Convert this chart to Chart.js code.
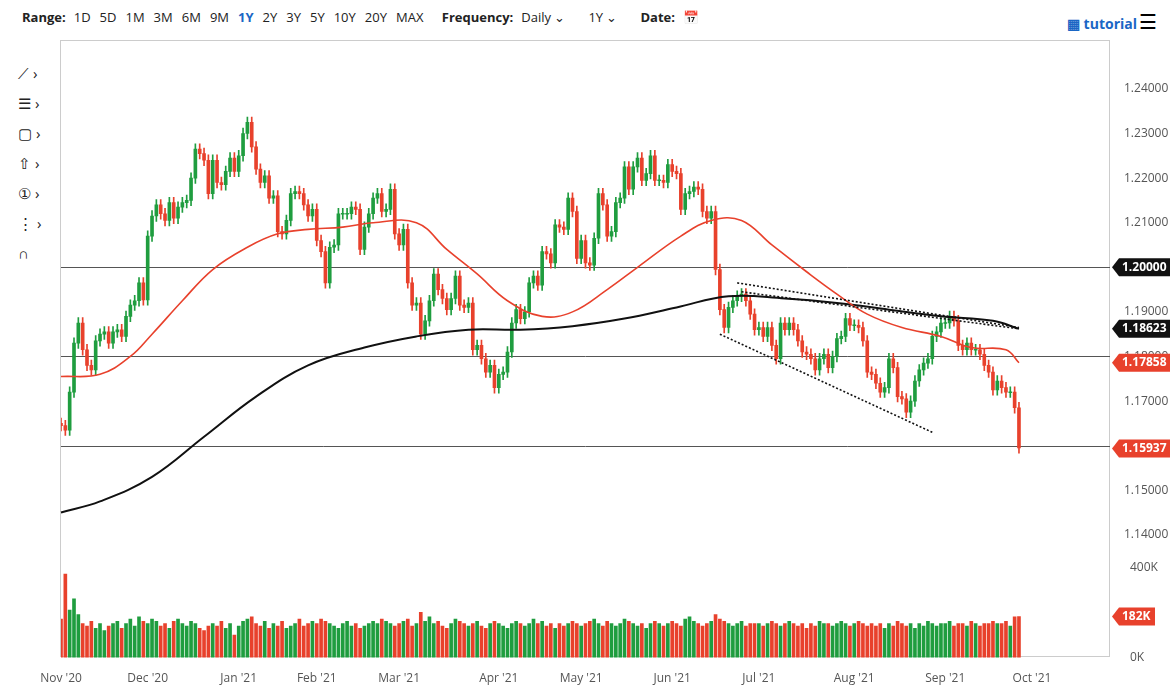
<!DOCTYPE html>
<html lang="en">
<head>
<meta charset="UTF-8">
<title>EUR/USD</title>
<style>
  body { margin: 0; background: #fff; font-family: "Open Sans", Arial, sans-serif; width: 1175px; height: 695px; overflow: hidden; position: relative; }
  #bar { position: absolute; top: 8px; left: 22px; font-size: 13px; color: #222; white-space: nowrap; }
  #bar b { font-weight: 700; margin-right: 8px; }
  #bar span { margin-right: 9px; }
  #bar .on { color: #1a66c5; font-weight: 700; }
  #tut { position: absolute; top: 14px; right: 38px; color: #1a66c5; font-weight: 700; font-size: 14px; }
  #menu { position: absolute; top: 8px; right: 18px; font-size: 20px; }
  #tools { position: absolute; left: 18px; top: 58px; font-size: 15px; line-height: 30px; color: #222; }
  .frame { position: absolute; left: 60px; top: 40px; width: 1050px; height: 617px; border: 1px solid #ccc; box-sizing: border-box; }
  #pc { position: absolute; left: 0; top: 40px; }
  #vc { position: absolute; left: 0; top: 541px; }
</style>
</head>
<body>
<div id="bar"><b>Range:</b><span>1D</span><span>5D</span><span>1M</span><span>3M</span><span>6M</span><span>9M</span><span class="on">1Y</span><span>2Y</span><span>3Y</span><span>5Y</span><span>10Y</span><span>20Y</span><span>MAX</span>
 <b style="margin-left:6px">Frequency:</b><span>Daily ⌄</span><span style="margin-left:14px">1Y ⌄</span><b style="margin-left:14px">Date:</b><span>📅</span></div>
<div id="tut">▦ tutorial</div><div id="menu">☰</div>
<div id="tools">⟋ ›<br>☰ ›<br>▢ ›<br>⇧ ›<br>① ›<br>⋮ ›<br>∩</div>
<div class="frame"></div>
<canvas id="pc" width="1175" height="517"></canvas>
<canvas id="vc" width="1175" height="151"></canvas>
<script src="https://cdn.jsdelivr.net/npm/chart.js"></script>
<script>
// month blocks (trading days per month in view)
const monthNames = ["Nov '20","Dec '20","Jan '21","Feb '21","Mar '21","Apr '21","May '21","Jun '21","Jul '21","Aug '21","Sep '21","Oct '21"];
const monthCounts = [20,21,18,19,23,19,21,20,22,21,18];

const closes = [
 1.1645,1.1635,1.1720,1.1830,1.1875,1.1815,1.1780,1.1770,1.1835,1.1850,1.1855,1.1830,1.1855,1.1860,1.1845,1.1890,1.1915,1.1925,1.1965,1.1927,
 1.2070,1.2115,1.2140,1.2120,1.2105,1.2145,1.2110,1.2135,1.2145,1.2150,1.2200,1.2265,1.2255,1.2240,1.2165,1.2240,1.2190,1.2185,1.2215,1.2245,1.2215,
 1.2250,1.2300,1.2325,1.2270,1.2220,1.2190,1.2205,1.2155,1.2160,1.2080,1.2075,1.2105,1.2165,1.2170,1.2165,1.2140,1.2115,1.2130,
 1.2060,1.2035,1.1965,1.2045,1.2050,1.2120,1.2120,1.2120,1.2135,1.2130,1.2040,1.2090,1.2120,1.2155,1.2165,1.2125,1.2130,1.2175,1.2075,
 1.2050,1.2085,1.1965,1.1915,1.1920,1.1850,1.1880,1.1925,1.1985,1.1950,1.1930,1.1905,1.1930,1.1980,1.1915,1.1910,1.1920,1.1815,1.1825,1.1795,1.1765,1.1780,1.1730,
 1.1760,1.1765,1.1810,1.1875,1.1905,1.1885,1.1900,1.1965,1.1980,1.1960,1.2035,1.2030,1.2010,1.2095,1.2090,1.2085,1.2155,1.2125,1.2020,
 1.2060,1.2010,1.2005,1.2065,1.2165,1.2140,1.2070,1.2080,1.2145,1.2155,1.2225,1.2175,1.2225,1.2245,1.2195,1.2210,1.2250,1.2195,1.2195,1.2190,1.2230,
 1.2215,1.2210,1.2130,1.2165,1.2170,1.2180,1.2175,1.2125,1.2110,1.2125,1.1995,1.1905,1.1865,1.1910,1.1925,1.1935,1.1940,1.1925,1.1895,1.1860,
 1.1865,1.1845,1.1865,1.1825,1.1795,1.1875,1.1860,1.1875,1.1860,1.1835,1.1810,1.1805,1.1795,1.1770,1.1795,1.1805,1.1775,1.1800,1.1840,1.1845,1.1885,1.1870,
 1.1870,1.1865,1.1835,1.1765,1.1760,1.1740,1.1720,1.1730,1.1795,1.1775,1.1710,1.1705,1.1675,1.1700,1.1745,1.1770,1.1785,1.1795,1.1845,1.1855,1.1875,
 1.1875,1.1890,1.1880,1.1825,1.1815,1.1830,1.1815,1.1815,1.1805,1.1780,1.1765,1.1725,1.1745,1.1730,1.1720,1.1720,1.1685,1.1595
];
const firstOpen = 1.1650;
const wick = 0.0012;

const volumes = [
 170,370,210,260,190,150,140,160,130,150,120,140,150,160,130,150,170,140,180,160,
 150,170,160,140,150,130,160,170,150,140,160,150,130,120,140,150,140,160,130,150,100,
 140,160,170,180,150,140,160,130,150,140,160,130,140,150,170,140,150,160,
 150,170,160,150,140,130,150,160,140,150,130,140,150,160,150,170,160,150,140,
 150,160,170,140,150,200,160,180,150,160,140,130,150,170,160,150,140,150,160,140,130,150,160,
 150,140,130,150,160,150,140,150,170,150,160,140,150,130,150,140,150,160,150,
 140,150,160,170,150,140,160,150,140,150,170,160,150,140,150,130,150,160,150,140,150,
 160,150,140,170,180,160,150,140,150,160,190,170,160,150,140,150,160,140,150,150,
 150,140,150,160,150,140,150,160,150,140,150,130,150,140,160,150,150,140,150,160,150,140,
 150,160,150,140,150,140,150,130,150,140,160,150,140,150,130,150,140,160,150,140,150,
 150,160,140,150,150,140,160,150,140,150,150,160,150,150,160,140,180,182
];

// moving averages at sparse trading-day indices
const ma200Idx = [0,9,21,33,45,57,70,82,94,106,118,130,142,154,167,179,191,203,215,221];
const ma200Val = [1.1450,1.1475,1.1530,1.1620,1.1710,1.1780,1.1820,1.1845,1.1860,1.1860,1.1868,1.1885,1.1910,1.1935,1.1930,1.1920,1.1905,1.1890,1.1880,1.1862];
const ma50Idx = [0,9,16,21,28,35,43,50,57,65,72,82,89,96,103,111,118,126,133,143,150,157,164,172,179,186,194,203,210,218,221];
const ma50Val = [1.1755,1.1760,1.1800,1.1850,1.1925,1.1995,1.2045,1.2075,1.2085,1.2090,1.2100,1.2100,1.2040,1.1985,1.1925,1.1890,1.1900,1.1950,1.2000,1.2070,1.2105,1.2105,1.2050,1.1990,1.1940,1.1895,1.1865,1.1845,1.1820,1.1815,1.1786];

// dotted trend lines [idx0, val0, idx1, val1]
const trendLines = [[156,1.1965,221,1.1865],[157,1.1945,221,1.1862],[152,1.1850,201,1.1630]];
const hLines = [1.20,1.18,1.16];
const tags = [[1.20,'1.20000','#111'],[1.18623,'1.18623','#111'],[1.17858,'1.17858','#e8412c'],[1.15937,'1.15937','#e8412c']];

const extraSlots = 21;
const N = closes.length;
const labels = [];
for (let i = 0; i < N + extraSlots; i++) labels.push(i);
const monthStart = {};
let acc = 0;
monthCounts.forEach((c, m) => { monthStart[acc] = monthNames[m]; acc += c; });
monthStart[acc + 2] = monthNames[monthCounts.length];

const opens = closes.map((c, i) => i === 0 ? firstOpen : closes[i - 1]);
const up = closes.map((c, i) => c >= opens[i]);
const GREEN = '#1f9d3f', RED = '#e8412c';
const colors = up.map(u => u ? GREEN : RED);

function sparse(idx, val) {
  const a = new Array(N + extraSlots).fill(null);
  idx.forEach((k, j) => a[k] = val[j]);
  return a;
}

const xCommon = { type: 'category', offset: false, grid: { display: false } };
const AXW = 65;
const fitAxis = { afterFit: s => { s.width = AXW; } };

const overlay = {
  id: 'overlay',
  beforeDatasetsDraw(chart) {
    const { ctx, chartArea: a, scales: { y } } = chart;
    ctx.save();
    ctx.strokeStyle = '#555'; ctx.lineWidth = 1;
    hLines.forEach(v => { const py = Math.round(y.getPixelForValue(v)) + 0.5; ctx.beginPath(); ctx.moveTo(a.left, py); ctx.lineTo(a.right, py); ctx.stroke(); });
    ctx.restore();
  },
  afterDraw(chart) {
    const { ctx, chartArea: a, scales: { y } } = chart;
    ctx.save();
    ctx.font = 'bold 12px "Open Sans"'; ctx.textBaseline = 'middle';
    tags.forEach(([v, t, c]) => {
      const py = y.getPixelForValue(v);
      ctx.fillStyle = c;
      ctx.beginPath(); ctx.moveTo(a.right + 2, py); ctx.lineTo(a.right + 9, py - 9); ctx.lineTo(a.right + 60, py - 9); ctx.lineTo(a.right + 60, py + 9); ctx.lineTo(a.right + 9, py + 9); ctx.closePath(); ctx.fill();
      ctx.fillStyle = '#fff'; ctx.fillText(t, a.right + 12, py);
    });
    ctx.restore();
  }
};

const trendSets = trendLines.map(t => ({
  type: 'line', data: sparse([t[0], t[2]], [t[1], t[3]]), spanGaps: true,
  borderColor: '#111', borderWidth: 1.6, borderDash: [2, 2], pointRadius: 0, order: 0
}));

new Chart(document.getElementById('pc'), {
  type: 'bar',
  data: {
    labels,
    datasets: [
      { data: closes.map((c, i) => [Math.min(c, opens[i]) - wick, Math.max(c, opens[i]) + wick]), backgroundColor: colors, barThickness: 1, grouped: false, order: 3 },
      { data: closes.map((c, i) => Math.abs(c - opens[i]) < 0.0002 ? [c - 0.0001, c + 0.0001] : [opens[i], c]), backgroundColor: colors, barThickness: 3, grouped: false, order: 2 },
      { type: 'line', data: sparse(ma50Idx, ma50Val), spanGaps: true, borderColor: '#e8412c', borderWidth: 1.6, pointRadius: 0, tension: 0.4, order: 1 },
      { type: 'line', data: sparse(ma200Idx, ma200Val), spanGaps: true, borderColor: '#111', borderWidth: 2, pointRadius: 0, tension: 0.4, order: 1 },
      ...trendSets
    ]
  },
  options: {
    responsive: false, animation: false,
    layout: { padding: { left: 61, top: 0, bottom: 0, right: 0 } },
    plugins: { legend: { display: false }, tooltip: { enabled: false } },
    scales: {
      x: { ...xCommon, display: false },
      y: { position: 'right', min: 1.138, max: 1.248, ...fitAxis, grid: { display: false }, border: { display: false },
           afterBuildTicks: s => { s.ticks = [1.14,1.15,1.16,1.17,1.18,1.19,1.20,1.21,1.22,1.23,1.24].map(v => ({ value: v })); },
           ticks: { color: '#555', font: { size: 12, family: 'Open Sans' }, padding: 6, callback: v => v.toFixed(5) } }
    }
  },
  plugins: [overlay]
});

const volTag = {
  id: 'volTag',
  afterDraw(chart) {
    const { ctx, chartArea: a, scales: { y } } = chart;
    const py = y.getPixelForValue(volumes[N - 1]);
    ctx.save();
    ctx.fillStyle = RED;
    ctx.beginPath(); ctx.moveTo(a.right + 2, py); ctx.lineTo(a.right + 9, py - 9); ctx.lineTo(a.right + 45, py - 9); ctx.lineTo(a.right + 45, py + 9); ctx.lineTo(a.right + 9, py + 9); ctx.closePath(); ctx.fill();
    ctx.fillStyle = '#fff'; ctx.font = 'bold 12px "Open Sans"'; ctx.textBaseline = 'middle';
    ctx.fillText(volumes[N - 1] + 'K', a.right + 12, py);
    ctx.restore();
  }
};

new Chart(document.getElementById('vc'), {
  type: 'bar',
  data: { labels, datasets: [{ data: volumes, backgroundColor: colors, barThickness: 3 }] },
  options: {
    responsive: false, animation: false,
    layout: { padding: { left: 61, top: 1, bottom: 0, right: 0 } },
    plugins: { legend: { display: false }, tooltip: { enabled: false } },
    scales: {
      x: { ...xCommon, border: { display: false },
           ticks: { autoSkip: false, maxRotation: 0, color: '#555', font: { size: 12, family: 'Open Sans' }, padding: 6,
                    callback: (v, i) => monthStart[i] !== undefined ? monthStart[i] : null } },
      y: { position: 'right', min: 0, max: 431, ...fitAxis, grid: { display: false }, border: { display: false },
           afterBuildTicks: s => { s.ticks = [{ value: 0 }, { value: 400 }]; },
           ticks: { color: '#555', font: { size: 12, family: 'Open Sans' }, padding: 12, callback: v => v + 'K' } }
    }
  },
  plugins: [volTag]
});
</script>
</body>
</html>
